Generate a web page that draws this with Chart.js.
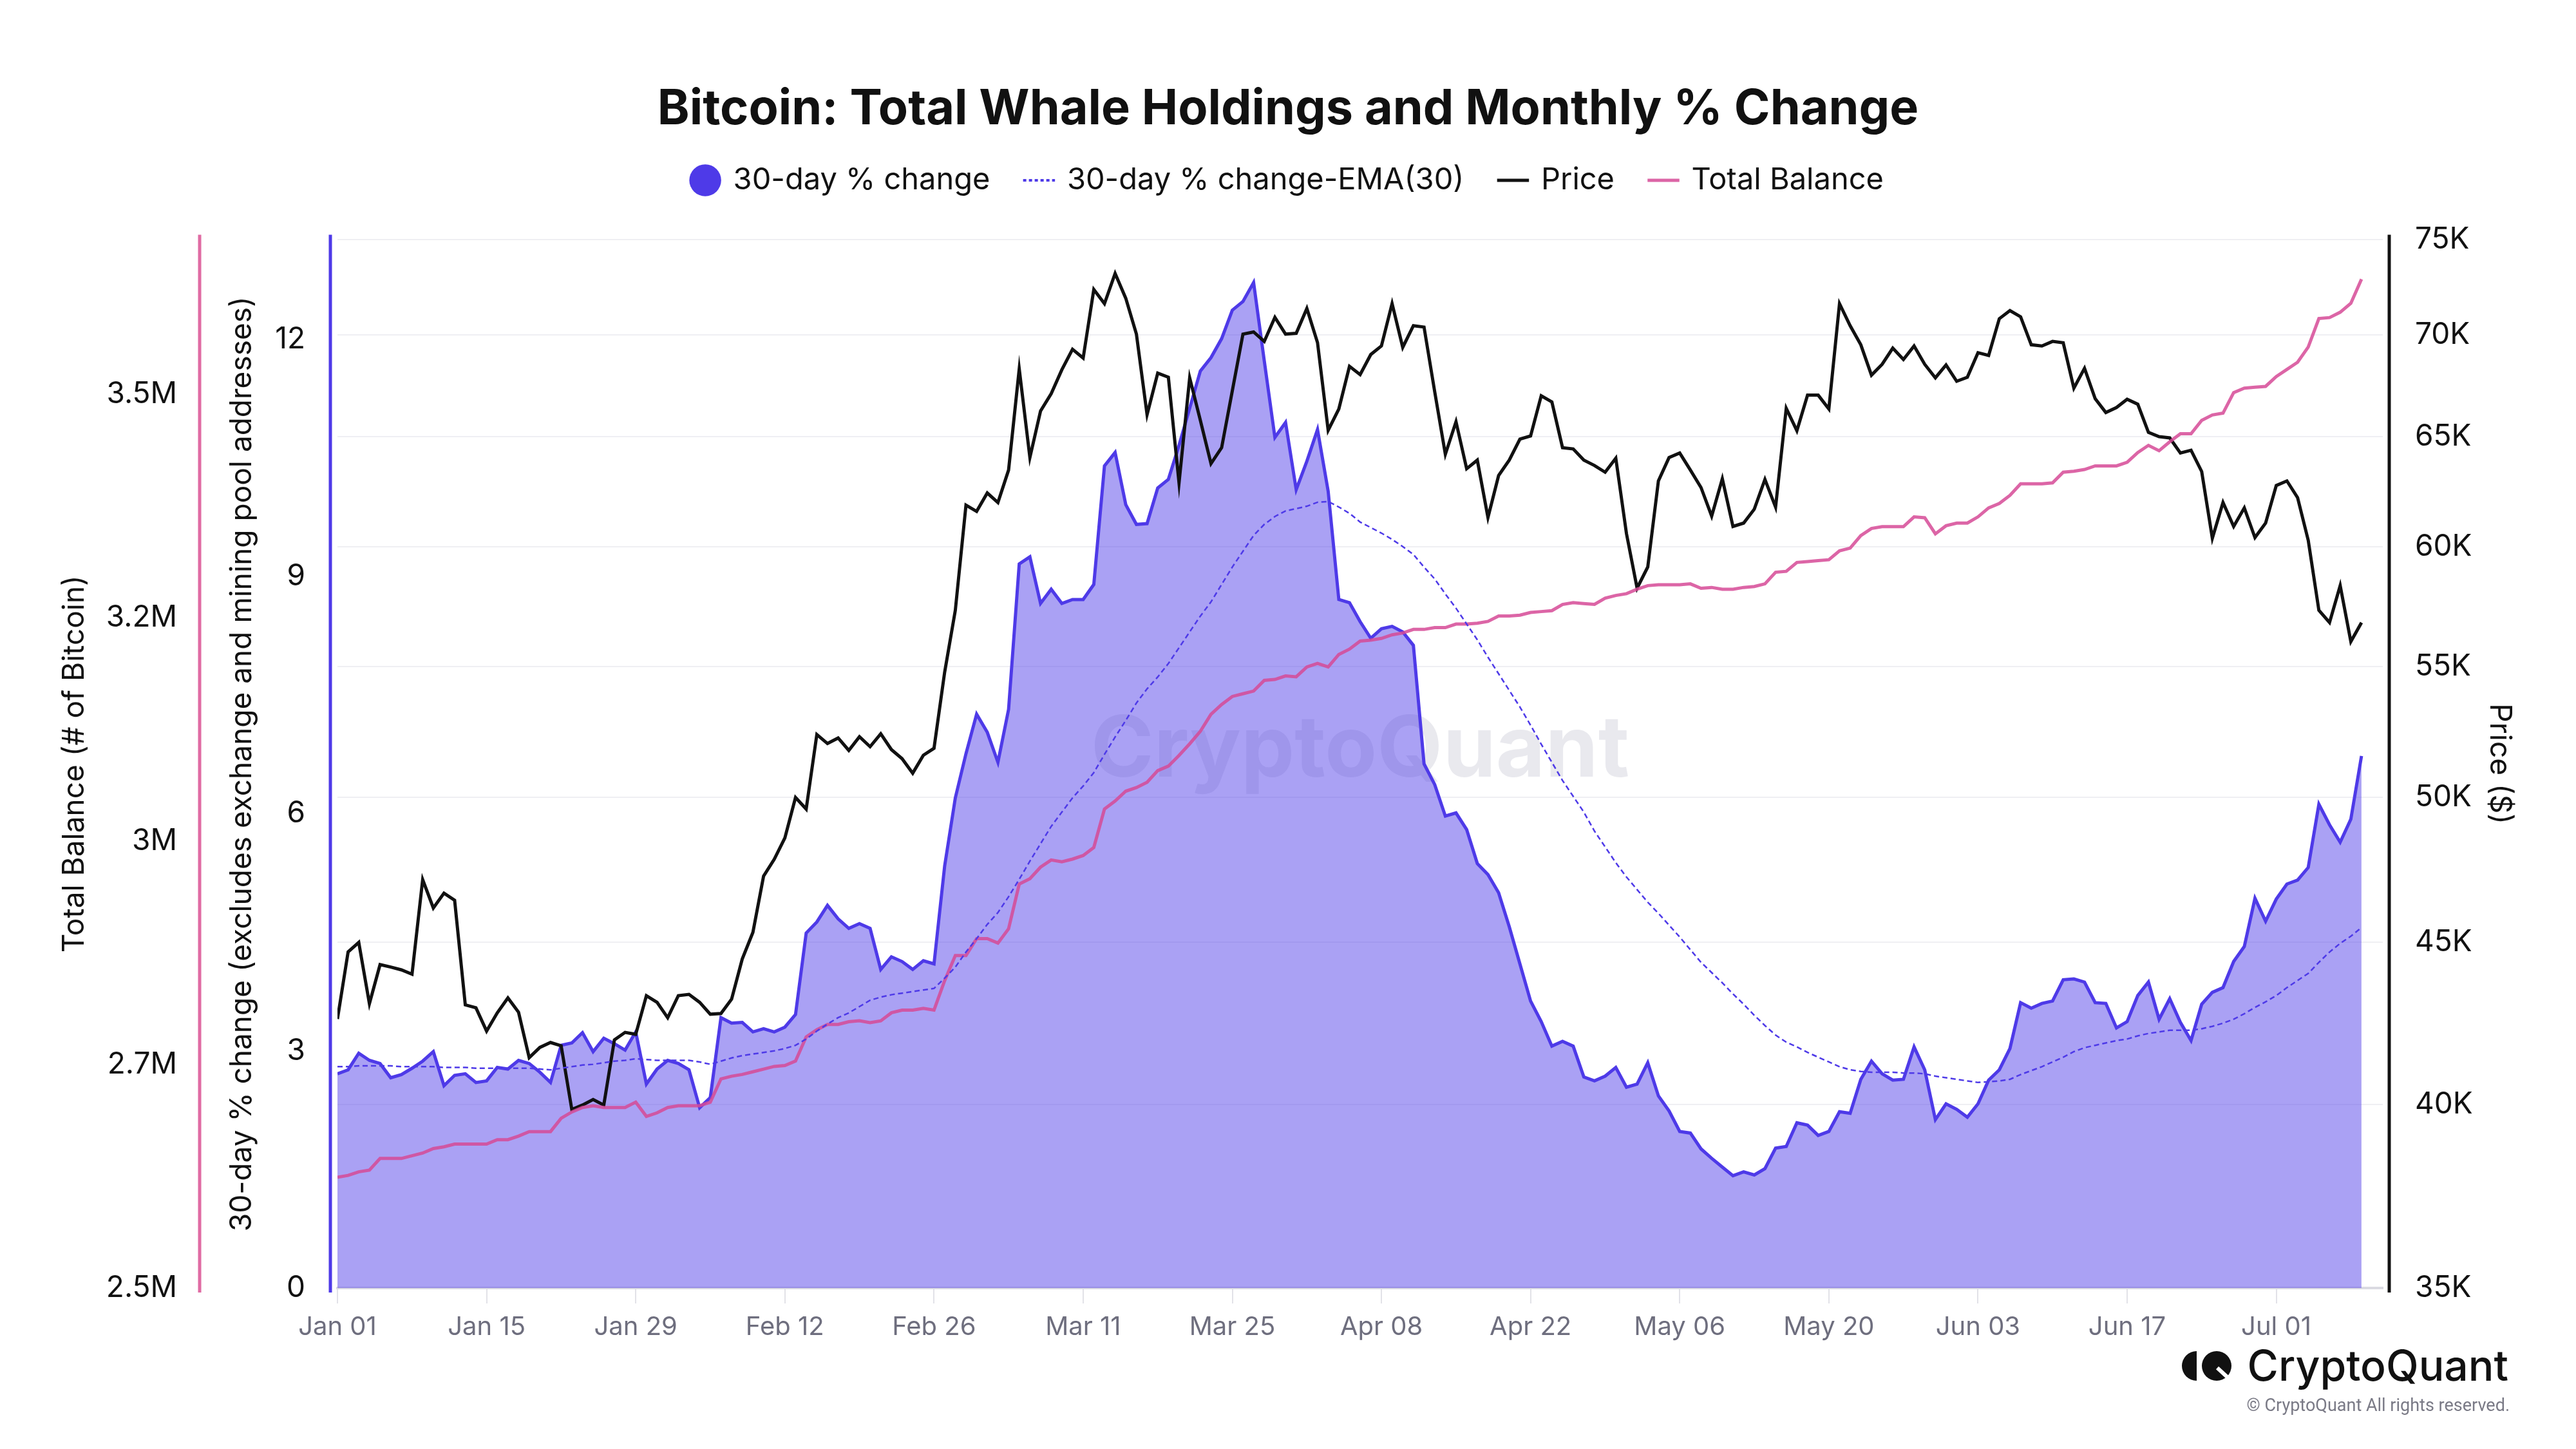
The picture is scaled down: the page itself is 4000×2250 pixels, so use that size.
<!DOCTYPE html>
<html>
<head>
<meta charset="utf-8">
<title>Bitcoin: Total Whale Holdings and Monthly % Change</title>
<script src="https://cdn.jsdelivr.net/npm/chart.js@4.4.1/dist/chart.umd.min.js"></script>
<style>
  html, body { margin: 0; padding: 0; background: #ffffff; }
  canvas { display: block; }
</style>
</head>
<body>
<canvas id="whaleChart" width="4000" height="2250"></canvas>
<script>
// x軸 (2024-01-01 からの日数)
const tickDays = [0, 14, 28, 42, 56, 70, 84, 98, 112, 126, 140, 154, 168, 182];
const tickLabels = ['Jan 01', 'Jan 15', 'Jan 29', 'Feb 12', 'Feb 26', 'Mar 11', 'Mar 25',
  'Apr 08', 'Apr 22', 'May 06', 'May 20', 'Jun 03', 'Jun 17', 'Jul 01'];
const pctTicks = [0, 3, 6, 9, 12];
const balanceTicks = [2.5, 2.75, 3.0, 3.25, 3.5];
const balanceTickLabels = ['2.5M', '2.7M', '3M', '3.2M', '3.5M'];
const priceTicks = [35000, 40000, 45000, 50000, 55000, 60000, 65000, 70000, 75000];

// 30-day % change
const pctChange = [
  2.71, 2.76, 2.97, 2.88, 2.84, 2.66, 2.70, 2.78, 2.87, 2.99,
  2.56, 2.69, 2.71, 2.60, 2.62, 2.79, 2.77, 2.88, 2.84, 2.73,
  2.60, 3.07, 3.10, 3.23, 2.99, 3.16, 3.09, 3.01, 3.24, 2.58,
  2.77, 2.88, 2.84, 2.76, 2.28, 2.41, 3.42, 3.35, 3.36, 3.24,
  3.28, 3.24, 3.30, 3.46, 4.49, 4.63, 4.84, 4.67, 4.55, 4.61,
  4.55, 4.03, 4.19, 4.13, 4.03, 4.14, 4.10, 5.34, 6.20, 6.76,
  7.26, 7.03, 6.65, 7.32, 9.16, 9.25, 8.66, 8.84, 8.66, 8.71,
  8.71, 8.90, 10.40, 10.57, 9.91, 9.66, 9.67, 10.12, 10.23, 10.66,
  11.13, 11.60, 11.77, 12.01, 12.37, 12.48, 12.72, 11.73, 10.76, 10.95,
  10.10, 10.46, 10.86, 10.08, 8.71, 8.67, 8.43, 8.22, 8.34, 8.37,
  8.30, 8.13, 6.63, 6.37, 5.97, 6.01, 5.80, 5.37, 5.23, 5.00,
  4.57, 4.10, 3.63, 3.37, 3.06, 3.12, 3.06, 2.67, 2.62, 2.68,
  2.79, 2.54, 2.58, 2.85, 2.43, 2.24, 1.98, 1.96, 1.76, 1.64,
  1.53, 1.42, 1.47, 1.43, 1.51, 1.77, 1.79, 2.09, 2.06, 1.93,
  1.98, 2.23, 2.21, 2.64, 2.87, 2.71, 2.63, 2.64, 3.05, 2.76,
  2.13, 2.33, 2.26, 2.16, 2.33, 2.63, 2.76, 3.03, 3.61, 3.54,
  3.60, 3.63, 3.90, 3.91, 3.87, 3.61, 3.60, 3.29, 3.37, 3.70,
  3.87, 3.40, 3.66, 3.36, 3.13, 3.59, 3.74, 3.80, 4.13, 4.32,
  4.93, 4.64, 4.92, 5.11, 5.16, 5.32, 6.12, 5.86, 5.64, 5.93, 6.73
];

// 30-day % change-EMA(30)
const pctEma = [
  2.80, 2.80, 2.81, 2.81, 2.81, 2.81, 2.80, 2.80, 2.80, 2.80,
  2.79, 2.79, 2.79, 2.78, 2.78, 2.78, 2.78, 2.78, 2.78, 2.77,
  2.76, 2.78, 2.80, 2.82, 2.83, 2.85, 2.87, 2.88, 2.90, 2.89,
  2.88, 2.88, 2.88, 2.88, 2.86, 2.83, 2.87, 2.91, 2.94, 2.96,
  2.98, 3.00, 3.03, 3.07, 3.15, 3.25, 3.34, 3.42, 3.48, 3.56,
  3.64, 3.68, 3.71, 3.73, 3.75, 3.77, 3.79, 3.92, 4.06, 4.25,
  4.42, 4.60, 4.75, 4.95, 5.17, 5.40, 5.62, 5.84, 6.02, 6.20,
  6.35, 6.52, 6.75, 6.97, 7.18, 7.40, 7.58, 7.73, 7.90, 8.10,
  8.30, 8.50, 8.68, 8.90, 9.12, 9.32, 9.52, 9.66, 9.76, 9.83,
  9.86, 9.89, 9.94, 9.95, 9.88, 9.80, 9.69, 9.62, 9.55, 9.47,
  9.38, 9.28, 9.12, 8.97, 8.78, 8.60, 8.40, 8.20, 7.98, 7.77,
  7.56, 7.35, 7.12, 6.88, 6.65, 6.42, 6.22, 6.02, 5.78, 5.58,
  5.38, 5.20, 5.04, 4.88, 4.74, 4.59, 4.44, 4.28, 4.12, 3.99,
  3.86, 3.72, 3.59, 3.45, 3.32, 3.20, 3.11, 3.05, 2.98, 2.92,
  2.86, 2.80, 2.76, 2.74, 2.73, 2.73, 2.73, 2.72, 2.72, 2.71,
  2.68, 2.66, 2.64, 2.62, 2.60, 2.61, 2.62, 2.64, 2.70, 2.75,
  2.80, 2.86, 2.92, 2.99, 3.04, 3.07, 3.10, 3.13, 3.15, 3.19,
  3.22, 3.24, 3.26, 3.26, 3.26, 3.28, 3.31, 3.35, 3.40, 3.47,
  3.55, 3.62, 3.70, 3.80, 3.89, 3.98, 4.12, 4.25, 4.36, 4.45, 4.56
];

// Price ($)
const price = [
  42560, 44690, 45000, 43040, 44280, 44200, 44110, 43970, 47100, 46140,
  46640, 46400, 43000, 42910, 42190, 42750, 43220, 42770, 41380, 41690,
  41840, 41740, 39850, 39980, 40140, 39980, 41920, 42150, 42090, 43290,
  43080, 42600, 43290, 43330, 43080, 42710, 42730, 43180, 44460, 45330,
  47220, 47800, 48550, 50000, 49580, 52340, 52000, 52210, 51740, 52260,
  51880, 52370, 51770, 51430, 50890, 51560, 51820, 54770, 57290, 61840,
  61560, 62390, 61960, 63440, 68280, 64020, 66220, 67060, 68240, 69260,
  68820, 72340, 71600, 73190, 71880, 70030, 66050, 68070, 67870, 62850,
  67840, 65780, 63740, 64480, 67200, 70030, 70140, 69660, 70890, 70030,
  70070, 71350, 69600, 65300, 66320, 68410, 68000, 69000, 69430, 71600,
  69360, 70460, 70390, 67160, 64170, 65710, 63500, 63900, 61290, 63190,
  63900, 64880, 65030, 66960, 66660, 64480, 64420, 63900, 63650, 63340,
  63990, 60580, 58220, 59120, 62940, 64020, 64230, 63440, 62640, 61350,
  63040, 60890, 61040, 61660, 63010, 61750, 66350, 65280, 66990, 66990,
  66320, 71600, 70460, 69490, 67970, 68510, 69320, 68750, 69430, 68510,
  67840, 68480, 67670, 67870, 69090, 68950, 70820, 71240, 70920, 69490,
  69430, 69660, 69590, 67330, 68310, 66820, 66150, 66390, 66790, 66550,
  65200, 65000, 64940, 64230, 64360, 63370, 60370, 61960, 60890, 61720,
  60400, 61040, 62730, 62940, 62180, 60280, 57290, 56780, 58330, 56000, 56780
];

// Total Balance (百万 BTC)
const totalBalance = [
  2.624, 2.626, 2.630, 2.632, 2.645, 2.645, 2.645, 2.648, 2.651, 2.656,
  2.658, 2.661, 2.661, 2.661, 2.661, 2.666, 2.666, 2.670, 2.675, 2.675,
  2.675, 2.690, 2.697, 2.702, 2.704, 2.702, 2.702, 2.702, 2.708, 2.692,
  2.696, 2.702, 2.704, 2.704, 2.704, 2.708, 2.734, 2.737, 2.739, 2.742,
  2.745, 2.748, 2.749, 2.754, 2.781, 2.789, 2.795, 2.795, 2.798, 2.799,
  2.797, 2.799, 2.808, 2.811, 2.811, 2.813, 2.811, 2.844, 2.872, 2.872,
  2.891, 2.891, 2.886, 2.902, 2.952, 2.958, 2.971, 2.979, 2.977, 2.980,
  2.984, 2.993, 3.036, 3.045, 3.056, 3.060, 3.066, 3.079, 3.084, 3.096,
  3.109, 3.123, 3.142, 3.153, 3.162, 3.165, 3.168, 3.180, 3.181, 3.185,
  3.184, 3.195, 3.199, 3.195, 3.209, 3.215, 3.224, 3.225, 3.227, 3.231,
  3.233, 3.237, 3.237, 3.239, 3.239, 3.243, 3.243, 3.244, 3.246, 3.252,
  3.252, 3.253, 3.256, 3.257, 3.258, 3.265, 3.267, 3.266, 3.265, 3.272,
  3.275, 3.277, 3.282, 3.286, 3.287, 3.287, 3.287, 3.288, 3.283, 3.284,
  3.282, 3.282, 3.284, 3.285, 3.288, 3.301, 3.302, 3.312, 3.313, 3.314,
  3.315, 3.325, 3.328, 3.342, 3.350, 3.352, 3.352, 3.352, 3.363, 3.362,
  3.344, 3.353, 3.356, 3.356, 3.363, 3.373, 3.378, 3.387, 3.400, 3.400,
  3.400, 3.401, 3.413, 3.414, 3.416, 3.420, 3.420, 3.420, 3.424, 3.435,
  3.443, 3.437, 3.447, 3.456, 3.456, 3.471, 3.477, 3.479, 3.502, 3.507,
  3.508, 3.509, 3.520, 3.528, 3.536, 3.553, 3.585, 3.586, 3.592, 3.602, 3.629
];

const PURPLE = '#4e3ae8';
const PINK = 'rgba(214, 74, 150, 0.85)';
const INK = '#111111';

const toPoints = arr => arr.map((v, i) => ({ x: i, y: v }));

/**
 * 凡例の下に余白を足す
 */
const legendSpacePlugin = {
  id: 'legendSpace',
  beforeInit(chart) {
    const originalFit = chart.legend.fit;
    chart.legend.fit = function fit() {
      originalFit.bind(chart.legend)();
      this.height += 59;
    };
  }
};

/**
 * 透かし文字
 */
const watermarkPlugin = {
  id: 'watermark',
  beforeDatasetsDraw(chart) {
    const { ctx, chartArea } = chart;
    ctx.save();
    ctx.font = 'bold 132px Inter';
    ctx.fillStyle = 'rgba(110, 110, 140, 0.15)';
    ctx.textAlign = 'center';
    ctx.textBaseline = 'middle';
    ctx.fillText('CryptoQuant', (chartArea.left + chartArea.right) / 2, (chartArea.top + chartArea.bottom) / 2 - 20);
    ctx.restore();
  }
};

/**
 * 軸の縦線（グラフ領域から少し離して描く）とロゴ
 */
const decorPlugin = {
  id: 'decor',
  afterDraw(chart) {
    const { ctx, chartArea, scales } = chart;
    const top = chartArea.top - 8;
    const bottom = chartArea.bottom + 7;
    const lines = [
      [scales.yBal.right - 10, '#e06ba3'],
      [scales.y.right - 11, PURPLE],
      [scales.yPrice.left + 10, INK]
    ];
    ctx.save();
    ctx.lineWidth = 5;
    for (const [x, color] of lines) {
      ctx.strokeStyle = color;
      ctx.beginPath();
      ctx.moveTo(x, top);
      ctx.lineTo(x, bottom);
      ctx.stroke();
    }

    // ロゴ
    const cy = 2121;
    ctx.fillStyle = INK;
    ctx.beginPath();
    ctx.arc(3411, cy, 23, Math.PI / 2, Math.PI * 1.5);
    ctx.closePath();
    ctx.fill();
    ctx.beginPath();
    ctx.arc(3442, cy, 23, 0, Math.PI * 2);
    ctx.fill();
    ctx.strokeStyle = '#ffffff';
    ctx.lineWidth = 6;
    ctx.beginPath();
    ctx.moveTo(3443, cy + 3);
    ctx.lineTo(3468, cy + 26);
    ctx.stroke();

    ctx.font = '500 66px Inter';
    ctx.textAlign = 'right';
    ctx.textBaseline = 'alphabetic';
    ctx.fillText('CryptoQuant', 3895, 2144);
    ctx.font = '27px Roboto';
    ctx.fillStyle = '#7a7a86';
    ctx.fillText('\u00A9 CryptoQuant All rights reserved.', 3897, 2191);
    ctx.restore();
  }
};

document.addEventListener('DOMContentLoaded', function() {
  const canvas = document.getElementById('whaleChart');
  const ctx = canvas.getContext('2d');

  Chart.defaults.font.family = 'Inter';
  Chart.defaults.color = INK;

  const config = {
    type: 'line',
    data: {
      datasets: [
        {
          label: '30-day % change',
          data: toPoints(pctChange),
          yAxisID: 'y',
          borderColor: PURPLE,
          backgroundColor: 'rgba(78, 58, 232, 0.48)',
          borderWidth: 5,
          fill: 'origin',
          pointRadius: 0,
          pointStyle: 'circle',
          order: 4
        },
        {
          label: '30-day % change-EMA(30)',
          data: toPoints(pctEma),
          yAxisID: 'y',
          borderColor: PURPLE,
          borderWidth: 2.5,
          borderDash: [8, 5],
          fill: false,
          pointRadius: 0,
          pointStyle: 'line',
          order: 1
        },
        {
          label: 'Price',
          data: toPoints(price),
          yAxisID: 'yPrice',
          borderColor: INK,
          borderWidth: 5,
          fill: false,
          pointRadius: 0,
          pointStyle: 'line',
          order: 3
        },
        {
          label: 'Total Balance',
          data: toPoints(totalBalance),
          yAxisID: 'yBal',
          borderColor: PINK,
          borderWidth: 5,
          fill: false,
          pointRadius: 0,
          pointStyle: 'line',
          order: 2
        }
      ]
    },
    options: {
      responsive: false,
      animation: false,
      devicePixelRatio: 1,
      layout: { padding: { top: 0, left: 0, right: 0, bottom: 150 } },
      plugins: {
        title: {
          display: true,
          text: 'Bitcoin: Total Whale Holdings and Monthly % Change',
          color: INK,
          font: { size: 75.5, weight: 'bold', lineHeight: 0.8 },
          padding: { top: 140, bottom: 0 }
        },
        legend: {
          position: 'top',
          labels: {
            usePointStyle: true,
            boxHeight: 35,
            padding: 56,
            color: INK,
            font: { size: 47 },
            sort: (a, b) => a.datasetIndex - b.datasetIndex,
            generateLabels(chart) {
              const items = Chart.defaults.plugins.legend.labels.generateLabels(chart);
              for (const item of items) {
                if (item.datasetIndex === 0) {
                  item.fillStyle = PURPLE;
                  item.strokeStyle = PURPLE;
                  item.lineWidth = 0;
                }
                if (item.datasetIndex === 1) {
                  item.lineWidth = 4;
                  item.lineDash = [5, 4];
                }
              }
              return items;
            }
          }
        },
        tooltip: { enabled: false }
      },
      scales: {
        x: {
          type: 'linear',
          min: 0,
          max: 192,
          afterBuildTicks: scale => { scale.ticks = tickDays.map(v => ({ value: v })); },
          afterFit: scale => { scale.height = 100; },
          ticks: {
            autoSkip: false,
            maxRotation: 0,
            padding: 13,
            color: '#6e6e7e',
            font: { size: 40 },
            callback: value => tickLabels[tickDays.indexOf(value)]
          },
          grid: { drawOnChartArea: false, drawTicks: true, tickLength: 24, color: '#e2e2e8', lineWidth: 2 },
          border: { display: true, color: '#dadae2', width: 4 }
        },
        yBal: {
          type: 'linear',
          position: 'left',
          weight: 2,
          min: 2.5,
          max: 3.673,
          afterBuildTicks: scale => { scale.ticks = balanceTicks.map(v => ({ value: v })); },
          afterFit: scale => { scale.width = 320; },
          ticks: {
            padding: 45,
            font: { size: 46 },
            color: INK,
            callback: value => balanceTickLabels[balanceTicks.indexOf(value)]
          },
          grid: { display: false, drawTicks: false },
          border: { display: false },
          title: {
            display: true,
            text: 'Total Balance (# of Bitcoin)',
            color: INK,
            font: { size: 46 },
            padding: { top: 89, bottom: 0 }
          }
        },
        y: {
          type: 'linear',
          position: 'left',
          weight: 1,
          min: 0,
          max: 13.26,
          afterBuildTicks: scale => { scale.ticks = pctTicks.map(v => ({ value: v })); },
          afterFit: scale => { scale.width = 204; },
          ticks: { padding: 50, font: { size: 46 }, color: INK },
          grid: { display: false, drawTicks: false },
          border: { display: false },
          title: {
            display: true,
            text: '30-day % change (excludes exchange and mining pool addresses)',
            color: INK,
            font: { size: 46 },
            padding: { top: 29, bottom: 0 }
          }
        },
        yPrice: {
          type: 'logarithmic',
          position: 'right',
          min: 35000,
          max: 75000,
          afterBuildTicks: scale => { scale.ticks = priceTicks.map(v => ({ value: v })); },
          afterFit: scale => { scale.width = 300; },
          ticks: {
            padding: 50,
            font: { size: 46 },
            color: INK,
            callback: value => (value / 1000) + 'K'
          },
          grid: { display: true, drawTicks: false, color: '#efeff3', lineWidth: 2 },
          border: { display: false },
          title: {
            display: true,
            text: 'Price ($)',
            color: INK,
            font: { size: 46 },
            padding: { top: 92, bottom: 0 }
          }
        }
      }
    },
    plugins: [legendSpacePlugin, watermarkPlugin, decorPlugin]
  };

  new Chart(ctx, config);
});
</script>
</body>
</html>
